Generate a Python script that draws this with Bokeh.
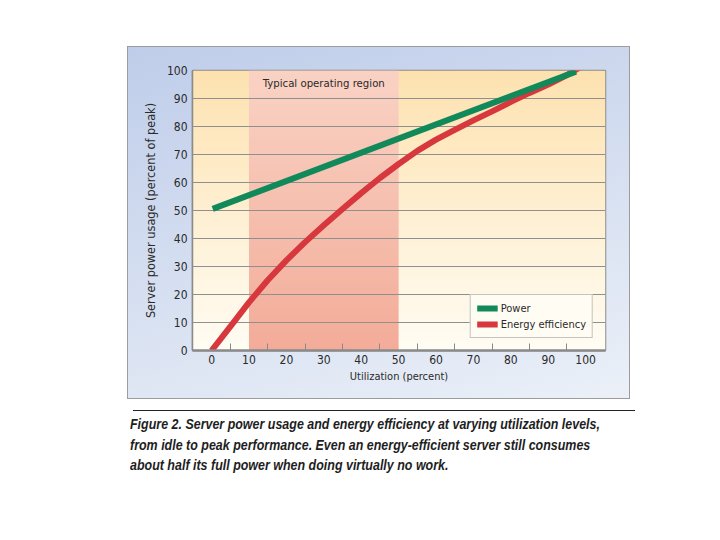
import numpy as np
from bokeh.plotting import figure
from bokeh.models import Range1d, FixedTicker, Legend, LegendItem, Label, Spacer, Div
from bokeh.layouts import column, row
from bokeh.embed import file_html
from bokeh.resources import INLINE

# ---- data ----
utilization_power = [0.3, 97.4]
power = [50.6, 99.6]

utilization_eff = [0, 5, 10, 15, 20, 25, 30, 35, 40, 45, 50, 55, 60, 65, 70, 75, 80, 85, 90, 95, 98.2]
efficiency = [0, 8.5, 17.2, 25.1, 32.2, 38.7, 44.7, 50.5, 56.2, 61.6, 66.6, 71.3, 75.3, 78.8, 82.2,
              85.4, 88.8, 92.0, 95.0, 98.4, 100.9]

region = [10, 50]
region_label = "Typical operating region"

x_limits = [-5.1, 105.3]
y_limits = [0, 100]
x_ticks = [0, 10, 20, 30, 40, 50, 60, 70, 80, 90, 100]
x_minor_ticks = [5, 15, 25, 35, 45, 55, 65, 75, 85, 95]
y_ticks = [0, 10, 20, 30, 40, 50, 60, 70, 80, 90, 100]

x_title = "Utilization (percent)"
y_title = "Server power usage (percent of peak)"
series_names = ["Power", "Energy efficiency"]
caption_lines = [
    "Figure 2. Server power usage and energy efficiency at varying utilization levels,",
    "from idle to peak performance. Even an energy-efficient server still consumes",
    "about half its full power when doing virtually no work.",
]

# ---- style ----
FONT = "'Liberation Sans Narrow', 'Arial Narrow', 'DejaVu Sans Condensed', sans-serif"
GREEN = "#12895a"
RED = "#d6383e"
GRID = "#8f8f8f"
TXT = "#2a2a2a"


def gradient(top, bottom, n=64):
    t = np.linspace(0.0, 1.0, n)[:, None]  # row 0 = bottom
    img = np.empty((n, 2), dtype=np.uint32)
    v = img.view(dtype=np.uint8).reshape((n, 2, 4))
    for k in range(3):
        v[:, :, k] = np.round(bottom[k] + (top[k] - bottom[k]) * t).astype(np.uint8)
    v[:, :, 3] = 255
    return img


p = figure(width=501, height=351,
           x_range=Range1d(x_limits[0], x_limits[1]), y_range=Range1d(y_limits[0], y_limits[1]),
           output_backend="svg", toolbar_location=None,
           min_border_left=64, min_border_right=24, min_border_top=23, min_border_bottom=48)
p.border_fill_alpha = 0
p.styles = {
    "background-image": "linear-gradient(165deg, #bfcdea 0%, #d3ddf0 45%, #ebf0f8 100%)",
    "box-shadow": "0 0 0 1px #9c9c9c",
}
p.outline_line_color = "#8a8a8a"
p.outline_line_width = 1.5

# backgrounds
bg = gradient((253, 226, 176), (255, 252, 243))
p.image_rgba(image=[bg], x=x_limits[0], y=y_limits[0], dw=x_limits[1] - x_limits[0],
             dh=y_limits[1] - y_limits[0], level="image")
rg = gradient((249, 210, 196), (243, 172, 153))
p.image_rgba(image=[rg], x=region[0], y=y_limits[0], dw=region[1] - region[0],
             dh=y_limits[1] - y_limits[0], level="image")

# grid
p.xgrid.grid_line_color = None
p.ygrid.ticker = FixedTicker(ticks=y_ticks)
p.ygrid.grid_line_color = GRID
p.ygrid.grid_line_width = 1

# axes
xa = p.xaxis[0]
xa.ticker = FixedTicker(ticks=x_ticks, minor_ticks=x_minor_ticks)
xa.major_tick_line_color = None
xa.major_tick_in = 0
xa.major_tick_out = 0
xa.minor_tick_in = 7
xa.minor_tick_out = 0
xa.minor_tick_line_color = "#8a8a8a"
xa.minor_tick_line_width = 1
xa.axis_line_color = "#8a8a8a"
xa.axis_line_width = 2.5
xa.major_label_standoff = 4
xa.axis_label = x_title
xa.axis_label_standoff = 3

ya = p.yaxis[0]
ya.ticker = FixedTicker(ticks=y_ticks)
ya.major_tick_line_color = None
ya.major_tick_in = 0
ya.major_tick_out = 0
ya.minor_tick_line_color = None
ya.minor_tick_in = 0
ya.minor_tick_out = 0
ya.axis_line_color = "#8a8a8a"
ya.axis_line_width = 1.5
ya.major_label_standoff = 5
ya.axis_label = y_title
ya.axis_label_standoff = 6

for ax in (xa, ya):
    ax.major_label_text_font = FONT
    ax.major_label_text_font_size = "12px"
    ax.major_label_text_color = TXT
    ax.axis_label_text_font = FONT
    ax.axis_label_text_font_style = "normal"
    ax.axis_label_text_color = TXT
xa.axis_label_text_font_size = "11px"
ya.axis_label_text_font_size = "12.6px"

# lines
r_eff = p.line(utilization_eff, efficiency, line_color=RED, line_width=6, line_join="round")
r_pow = p.line(utilization_power, power, line_color=GREEN, line_width=6)

p.add_layout(Label(x=(region[0] + region[1]) / 2, y=95.3, text=region_label,
                   text_align="center", text_baseline="middle", text_font=FONT,
                   text_font_size="11.3px", text_color=TXT))

legend = Legend(items=[LegendItem(label=series_names[0], renderers=[r_pow]),
                       LegendItem(label=series_names[1], renderers=[r_eff])],
                location="bottom_right")
legend.margin = 12
legend.padding = 6
legend.spacing = 2
legend.glyph_width = 21
legend.glyph_height = 14
legend.label_height = 14
legend.label_standoff = 3
legend.label_text_font = FONT
legend.label_text_font_size = "11px"
legend.label_text_color = TXT
legend.background_fill_color = "#fffcf4"
legend.background_fill_alpha = 1
legend.border_line_color = "#8a8a8a"
legend.border_line_width = 1
p.add_layout(legend)

cap_html = (
    '<div style="width:502px;border-top:1px solid #222;margin-top:7px;padding-top:3px;">'
    '<div style="margin-left:-3px;transform:scaleX(0.89);transform-origin:0 0;'
    'font-family:\'Liberation Sans Narrow\',\'Arial Narrow\',sans-serif;font-weight:bold;'
    'font-style:italic;font-size:14px;line-height:20.5px;color:#1e1e1e;white-space:nowrap;">'
    + "<br>".join(caption_lines) + "</div></div>"
)
cap = Div(text=cap_html, width=510, height=80)

layout = column(Spacer(height=47),
                row(Spacer(width=128), column(p, cap)))

open("out.html", "w").write(file_html(layout, INLINE))
